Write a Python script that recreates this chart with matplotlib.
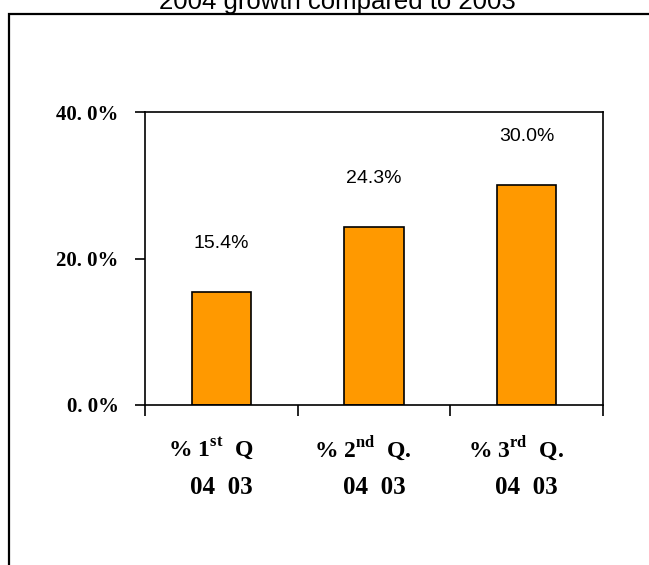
import matplotlib.pyplot as plt
from matplotlib.patches import Rectangle
from matplotlib.transforms import blended_transform_factory

# data
quarter_top = ['% 1$^{\\mathrm{st}}$  Q',
               '% 2$^{\\mathrm{nd}}$  Q.',
               '% 3$^{\\mathrm{rd}}$  Q.']
quarter_bottom = ['04  03', '04  03', '04  03']
growth = [15.4, 24.3, 30.0]
y_ticks = [0, 20, 40]
y_tick_labels = ['0. 0%', '20. 0%', '40. 0%']

plt.rcParams['mathtext.fontset'] = 'custom'
plt.rcParams['mathtext.rm'] = 'Liberation Serif:bold'
plt.rcParams['mathtext.bf'] = 'Liberation Serif:bold'

W, H = 649, 565
fig = plt.figure(figsize=(W / 100, H / 100), dpi=100)

# outer frame (only left and top edges visible in the crop)
fig.patches.append(Rectangle((9 / W, -0.1), 1.2, 1.1 - 13.5 / H, transform=fig.transFigure,
                             fill=False, lw=1.6, ec='black'))

fig.text(337 / W, 1 - 8.5 / H, '2004 growth compared to 2003', ha='center', va='baseline',
         fontsize=18.5, family='Liberation Sans')

ax = fig.add_axes([145 / W, 1 - 405 / H, 458 / W, 293 / H])
x = list(range(len(growth)))
ax.bar(x, growth, width=0.39, color='#FF9900', edgecolor='black', lw=1.2)

for xi, v in zip(x, growth):
    ax.text(xi, v + 6.6, f'{v:.1f}%', ha='center', va='center', fontsize=14,
            family='Liberation Sans')

# two-line category labels below the axis
tr = blended_transform_factory(ax.transData, ax.transAxes)
for xi, t1, t2 in zip(x, quarter_top, quarter_bottom):
    ax.text(xi - 0.07, -0.147, t1, transform=tr, ha='center', va='center', fontsize=17,
            family='Liberation Serif', fontweight='bold')
    ax.text(xi, -0.283, t2, transform=tr, ha='center', va='center', fontsize=18,
            family='Liberation Serif', fontweight='bold')

ax.set_xlim(-0.5, 2.5)
ax.set_ylim(0, 40)
ax.set_yticks(y_ticks)
ax.set_yticklabels(y_tick_labels, family='Liberation Serif', fontweight='bold', fontsize=15)
ax.set_xticks([-0.5, 0.5, 1.5, 2.5])
ax.set_xticklabels([])
ax.tick_params(axis='x', length=8, width=1.2, direction='out')
ax.tick_params(axis='y', length=7, width=1.2, direction='out', pad=12)
for s in ax.spines.values():
    s.set_linewidth(1.2)

fig.savefig('out.png', dpi=100)
